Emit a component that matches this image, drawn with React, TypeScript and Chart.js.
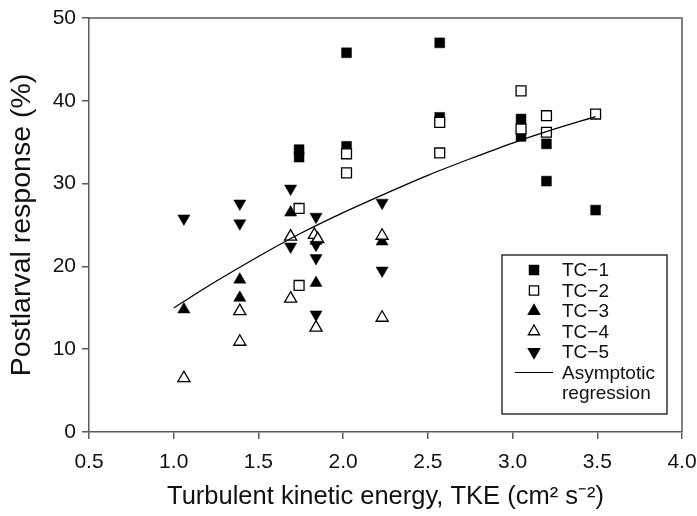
import React, { useEffect, useRef } from "react";
import { Chart, registerables } from "chart.js";

Chart.register(...registerables);

// ---- data ----
const tc1X = [1.74, 1.74, 2.02, 2.02, 2.57, 2.57, 3.05, 3.05, 3.2, 3.2, 3.49];
const tc1Y = [34.1, 33.2, 45.8, 34.5, 47.0, 38.0, 37.8, 35.7, 34.8, 30.3, 26.8];

const tc2X = [1.74, 1.74, 2.02, 2.02, 2.57, 2.57, 3.05, 3.05, 3.2, 3.2, 3.49];
const tc2Y = [27.0, 17.7, 33.6, 31.3, 37.4, 33.7, 41.2, 36.6, 38.2, 36.2, 38.4];

const tc3X = [1.06, 1.39, 1.39, 1.69, 1.84, 1.84, 2.23];
const tc3Y = [14.8, 18.4, 16.2, 26.5, 23.1, 18.0, 23.0];

const tc4X = [1.06, 1.39, 1.39, 1.69, 1.69, 1.83, 1.85, 1.84, 2.23, 2.23];
const tc4Y = [6.5, 14.6, 10.9, 23.6, 16.1, 23.8, 23.3, 12.6, 23.7, 13.8];

const tc5X = [1.06, 1.39, 1.39, 1.69, 1.69, 1.84, 1.84, 1.84, 1.84, 2.23, 2.23];
const tc5Y = [25.8, 27.6, 25.2, 29.4, 22.4, 26.0, 22.6, 21.0, 14.2, 27.7, 19.5];

const regX = [1.0, 1.25, 1.5, 1.75, 2.0, 2.25, 2.5, 2.75, 3.0, 3.25, 3.49];
const regY = [15.0, 18.2, 21.2, 24.0, 26.5, 28.8, 31.0, 33.0, 34.9, 36.6, 38.1];

const xTicks = [0.5, 1.0, 1.5, 2.0, 2.5, 3.0, 3.5, 4.0];
const yTicks = [0, 10, 20, 30, 40, 50];

const legendLabels = ["TC\u22121", "TC\u22122", "TC\u22123", "TC\u22124", "TC\u22125"];
const regressionLabel = ["Asymptotic", "regression"];

const xTitle = "Turbulent kinetic energy, TKE (cm\u00B2 s\u207B\u00B2)";
const yTitle = "Postlarval response (%)";

const FONT = "'Liberation Sans', Arial, Helvetica, sans-serif";

const zip = (xs: number[], ys: number[]) => xs.map((x, i) => ({ x, y: ys[i] }));

type MarkerStyle = { style: string; rotation: number; filled: boolean };
const markers: MarkerStyle[] = [
  { style: "rect", rotation: 0, filled: true },
  { style: "rect", rotation: 0, filled: false },
  { style: "triangle", rotation: 0, filled: true },
  { style: "triangle", rotation: 0, filled: false },
  { style: "triangle", rotation: 180, filled: true },
];

function drawMarker(ctx: CanvasRenderingContext2D, m: MarkerStyle, x: number, y: number, r: number) {
  ctx.save();
  ctx.beginPath();
  if (m.style === "rect") {
    const s = Math.SQRT1_2 * r;
    ctx.rect(x - s, y - s, 2 * s, 2 * s);
  } else {
    let rad = (m.rotation * Math.PI) / 180;
    ctx.moveTo(x + Math.sin(rad) * r, y - Math.cos(rad) * r);
    rad += (2 * Math.PI) / 3;
    ctx.lineTo(x + Math.sin(rad) * r, y - Math.cos(rad) * r);
    rad += (2 * Math.PI) / 3;
    ctx.lineTo(x + Math.sin(rad) * r, y - Math.cos(rad) * r);
    ctx.closePath();
  }
  ctx.fillStyle = m.filled ? "#000" : "#fff";
  ctx.fill();
  ctx.lineWidth = 1.3;
  ctx.strokeStyle = "#000";
  ctx.stroke();
  ctx.restore();
}

const framePlugin = {
  id: "frame",
  afterDraw(chart: any) {
    const { ctx, chartArea } = chart;
    const { left, right, top, bottom } = chartArea;
    ctx.save();
    ctx.strokeStyle = "#5a5a5a";
    ctx.lineWidth = 1.5;
    ctx.beginPath();
    ctx.moveTo(left, top);
    ctx.lineTo(right, top);
    ctx.lineTo(right, bottom);
    ctx.stroke();

    // legend box
    const bx = 502, by = 255, bw = 165, bh = 159;
    ctx.strokeStyle = "#000";
    ctx.lineWidth = 1.2;
    ctx.strokeRect(bx, by, bw, bh);
    ctx.font = `19px ${FONT}`;
    ctx.fillStyle = "#111";
    ctx.textBaseline = "middle";
    ctx.textAlign = "left";
    const rowH = 20.5;
    legendLabels.forEach((lbl, i) => {
      const yy = by + 15 + i * rowH;
      drawMarker(ctx, markers[i], 534, yy, 6.5);
      ctx.fillText(lbl, 562, yy + 1);
    });
    const ly = by + 15 + 5 * rowH;
    ctx.strokeStyle = "#000";
    ctx.lineWidth = 1.2;
    ctx.beginPath();
    ctx.moveTo(515, ly);
    ctx.lineTo(553, ly);
    ctx.stroke();
    ctx.fillText(regressionLabel[0], 562, ly + 1);
    ctx.fillText(regressionLabel[1], 562, ly + rowH + 1);
    ctx.restore();
  },
};

export default function App() {
  const ref = useRef<HTMLCanvasElement | null>(null);

  useEffect(() => {
    if (!ref.current) return;
    const series = [
      zip(tc1X, tc1Y),
      zip(tc2X, tc2Y),
      zip(tc3X, tc3Y),
      zip(tc4X, tc4Y),
      zip(tc5X, tc5Y),
    ];
    const datasets: any[] = series.map((data, i) => ({
      label: legendLabels[i],
      data,
      pointStyle: markers[i].style,
      rotation: markers[i].rotation,
      pointRadius: 7,
      pointBackgroundColor: markers[i].filled ? "#000" : "#fff",
      pointBorderColor: "#000",
      pointBorderWidth: markers[i].filled ? 0.5 : 1.3,
      showLine: false,
      order: 6 - i,
    }));
    datasets.push({
      label: regressionLabel.join(" "),
      data: zip(regX, regY),
      showLine: true,
      pointRadius: 0,
      borderColor: "#000",
      borderWidth: 1.3,
      tension: 0.3,
      order: 0,
    });

    const chart = new Chart(ref.current, {
      type: "scatter",
      data: { datasets },
      options: {
        animation: false,
        responsive: true,
        maintainAspectRatio: false,
        layout: { padding: { left: 0, top: 18, right: 15, bottom: 0 } },
        plugins: { legend: { display: false }, tooltip: { enabled: false } },
        scales: {
          x: {
            type: "linear",
            min: 0.5,
            max: 4.0,
            afterBuildTicks: (s: any) => {
              s.ticks = xTicks.map((v) => ({ value: v }));
            },
            afterFit: (s: any) => {
              s.height = 84;
              s.paddingLeft = 0;
              s.paddingRight = 0;
            },
            ticks: {
              color: "#111",
              font: { family: FONT, size: 21 },
              padding: 11,
              callback: (v: any) => Number(v).toFixed(1),
              maxRotation: 0,
            },
            grid: { display: true, drawOnChartArea: false, drawTicks: true, tickLength: 7, color: "#5a5a5a", lineWidth: 1.5 },
            border: { display: true, color: "#5a5a5a", width: 1.5 },
            title: {
              display: true,
              text: xTitle,
              color: "#111",
              font: { family: FONT, size: 25.5 },
              padding: { top: 0, bottom: 4 },
            },
          },
          y: {
            type: "linear",
            min: 0,
            max: 50,
            afterBuildTicks: (s: any) => {
              s.ticks = yTicks.map((v) => ({ value: v }));
            },
            afterFit: (s: any) => {
              s.width = 89;
              s.paddingTop = 0;
              s.paddingBottom = 0;
            },
            ticks: {
              color: "#111",
              font: { family: FONT, size: 21 },
              padding: 6,
            },
            grid: { display: true, drawOnChartArea: false, drawTicks: true, tickLength: 7, color: "#5a5a5a", lineWidth: 1.5 },
            border: { display: true, color: "#5a5a5a", width: 1.5 },
            title: {
              display: true,
              text: yTitle,
              color: "#111",
              font: { family: FONT, size: 28.5 },
              padding: { top: 5, bottom: 0 },
            },
          },
        },
      },
      plugins: [framePlugin],
    });
    return () => chart.destroy();
  }, []);

  return (
    <div style={{ position: "fixed", left: 0, top: 0, width: 697, height: 516, background: "#fff" }}>
      <canvas ref={ref} />
    </div>
  );
}
